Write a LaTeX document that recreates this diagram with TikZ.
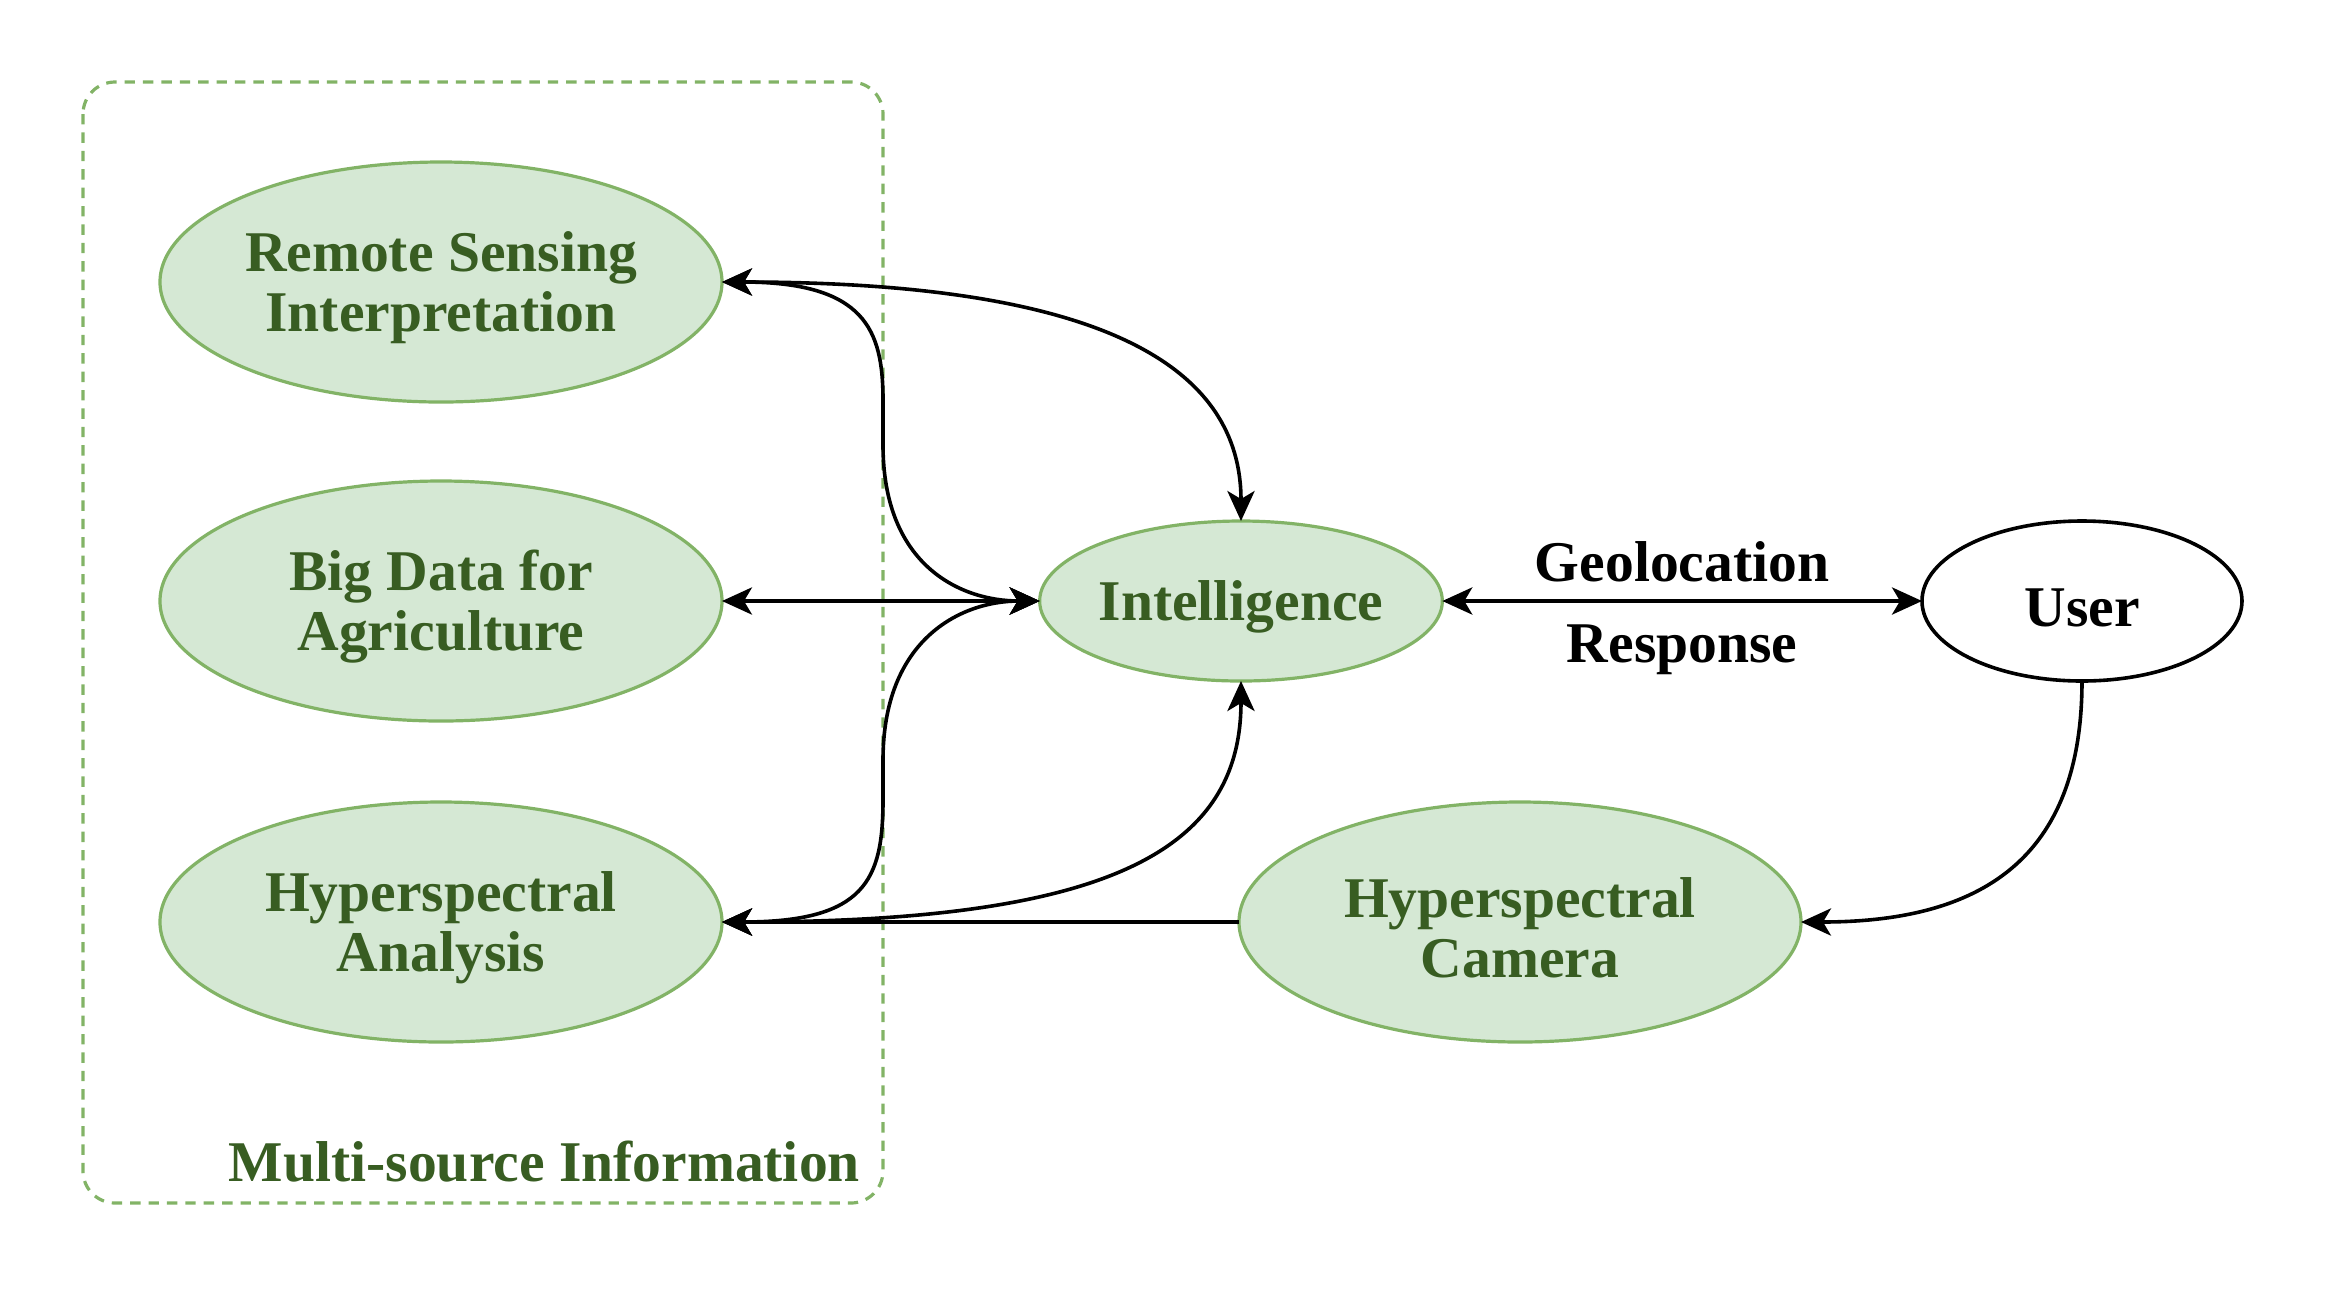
\documentclass[tikz,border=0pt]{standalone}
\usepackage{fontspec}
\setmainfont{Liberation Serif}
\usetikzlibrary{shapes.geometric,arrows.meta}
\definecolor{gfill}{HTML}{D5E8D4}
\definecolor{gline}{HTML}{82B366}
\definecolor{gtext}{HTML}{385D22}
\newcommand{\tstrut}{\rule{0pt}{13pt}}
\begin{document}
\begin{tikzpicture}[x=0.25pt,y=-0.25pt,
  txt/.style={font=\bfseries\fontsize{14.4}{15}\selectfont, align=center},
  gell/.style={ellipse, draw=gline, fill=gfill, line width=0.8pt, inner sep=0pt, outer sep=0pt,
    text=gtext, txt},
  bigell/.style={gell, minimum width=140.5pt, minimum height=60pt},
  conn/.style={line width=0.9pt, draw=black},
  >={Stealth[length=7.5pt,width=6.8pt,inset=2pt]}]
\useasboundingbox (0,0) rectangle (2328,1288);
% group box
\draw[gline, line width=0.8pt, dash pattern=on 2.6pt off 2pt, rounded corners=8pt] (83,82) rectangle (883,1203);
\node[anchor=east, text=gtext, txt] (grp) at (874,1162) {Multi-source Information};
% nodes
\node[bigell] (rs) at (441,282) {\tstrut Remote Sensing\\Interpretation};
\node[bigell] (bd) at (441,601) {\tstrut Big Data for\\Agriculture};
\node[bigell] (ha) at (441,922) {\tstrut Hyperspectral\\Analysis};
\node[gell, minimum width=100pt, minimum height=40pt] (intel) at (1241,601) {\tstrut Intelligence};
\node[ellipse, draw=black, line width=0.9pt, fill=white, minimum width=80pt, minimum height=40pt, inner sep=0pt, outer sep=0pt, txt] (user) at (2082,601) {\tstrut User};
\node[bigell] (cam) at (1520,922) {\tstrut Hyperspectral\\Camera};
% connectors
\draw[conn,<->] (rs.east) .. controls (1110,282) and (1241,370) .. (intel.north);
\draw[conn,<->] (rs.east) .. controls (865,282) and (883,330) .. (883,400) -- (883,445) .. controls (883,565) and (960,601) .. (intel.west);
\draw[conn,<->] (bd.east) -- (intel.west);
\draw[conn,<->] (intel.west) .. controls (960,601) and (883,640) .. (883,760) -- (883,800) .. controls (883,880) and (865,922) .. (ha.east);
\draw[conn,<->] (ha.east) .. controls (1110,922) and (1241,850) .. (intel.south);
\draw[conn,->] (cam.west) -- (ha.east);
\draw[conn,->] (user.south) .. controls (2082,860) and (1980,922) .. (cam.east);
\draw[conn,<->] (intel.east) -- node[above=1pt, txt] (geo) {Geolocation} node[below=2.2pt, txt] (resp) {Response} (user.west);
\end{tikzpicture}
\end{document}
